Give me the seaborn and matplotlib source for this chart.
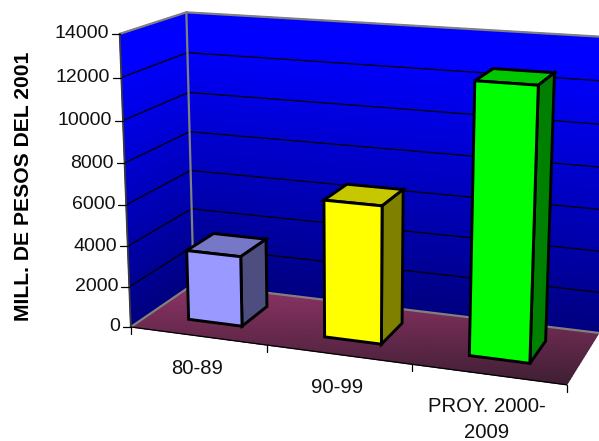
import numpy as np
import matplotlib
matplotlib.use("Agg")
import matplotlib.pyplot as plt
from matplotlib.colors import LinearSegmentedColormap, to_rgb
from matplotlib.patches import Polygon
from matplotlib.transforms import Transform
import seaborn as sns

# Chart data
periods = ["80-89", "90-99", "PROY. 2000-\n2009"]
amounts = [3450, 6600, 12600]
value_ticks = [0, 2000, 4000, 6000, 8000, 10000, 12000, 14000]
axis_title = "MILL. DE PESOS DEL 2001"
face_colours = ["#9999FF", "#FFFF00", "#00FF00"]

V_MAX = 14000.0
W, H = 599, 441
BAR_WIDTH = 0.4
Z_FRONT, Z_BACK = 0.28, 0.72

# Camera calibration: (category position, value, depth) -> canvas pixel
anchors = [
    (0, 0, 0, 131, 326), (0, 2000, 0, 130, 287), (0, 4000, 0, 128, 246),
    (0, 6000, 0, 126, 205), (0, 8000, 0, 125, 163), (0, 10000, 0, 123, 120),
    (0, 12000, 0, 121, 77), (0, 14000, 0, 119, 34),
    (1, 0, 0, 267, 346), (2, 0, 0, 412, 365), (3, 0, 0, 566, 385),
    (0, 0, 1, 193, 284), (0, 8000, 1, 189, 132), (0, 10000, 1, 188, 93),
    (0, 12000, 1, 188, 53), (0, 14000, 1, 187, 12),
    (3, 0, 1, 600, 333), (3, 2000, 1, 601, 292), (3, 4000, 1, 602, 251),
    (3, 6000, 1, 603, 209), (3, 14000, 1, 612, 38),
]
rows, rhs = [], []
for cx, val, dz, u, v in anchors:
    w = val / V_MAX
    rows.append([cx, w, dz, 1, 0, 0, 0, 0, -u * cx, -u * w, -u * dz])
    rhs.append(u)
    rows.append([0, 0, 0, 0, cx, w, dz, 1, -v * cx, -v * w, -v * dz])
    rhs.append(v)
camera = np.append(np.linalg.lstsq(np.array(rows, float), np.array(rhs, float), rcond=None)[0], 1).reshape(3, 4)


def project(cx, val, dz):
    cx, val, dz = np.broadcast_arrays(np.asarray(cx, float), np.asarray(val, float), np.asarray(dz, float))
    pts = np.stack([cx, val / V_MAX, dz, np.ones_like(cx)], axis=-1) @ camera.T
    return pts[..., 0] / pts[..., 2], pts[..., 1] / pts[..., 2]


class DepthPlane(Transform):
    """Maps seaborn's (category, value) coordinates onto a plane of constant depth."""
    input_dims = output_dims = 2
    is_affine = False

    def __init__(self, plane_depth):
        super().__init__()
        self.plane_depth = plane_depth

    def transform_non_affine(self, values):
        values = np.asarray(values, float)
        return np.column_stack(project(values[:, 0] + 0.5, values[:, 1], self.plane_depth))


sns.set_theme(style="white")
plt.rcParams["font.family"] = ["Liberation Sans", "DejaVu Sans"]

fig = plt.figure(figsize=(W / 100, H / 100), dpi=100, facecolor="white")
ax = fig.add_axes([0, 0, 1, 1])
ax.set_xlim(0, W)
ax.set_ylim(H, 0)
ax.autoscale(False)
ax.set_axis_off()

wall_cmap = LinearSegmentedColormap.from_list("wall", ["#000080", "#0000FF"])
floor_cmap = LinearSegmentedColormap.from_list("floor", ["#8F3366", "#3E1F33"])

# Back wall, left wall and floor as shaded quads
v_grid = np.linspace(0, V_MAX, 40)
cc, vv = np.meshgrid([0, 3], v_grid)
uu, yy = project(cc, vv, 1)
ax.pcolormesh(uu, yy, vv / V_MAX, cmap=wall_cmap, shading="gouraud", vmin=0, vmax=0.9, zorder=1)
zz, vv = np.meshgrid([0, 1], v_grid)
uu, yy = project(0, vv, zz)
ax.pcolormesh(uu, yy, vv / V_MAX, cmap=wall_cmap, shading="gouraud", vmin=0, vmax=0.9, zorder=1)
# The floor darkens towards the bottom of the canvas rather than along its depth
cc, zz = np.meshgrid(np.linspace(0, 3, 30), np.linspace(0, 1, 20))
uu, yy = project(cc, 0, zz)
ax.pcolormesh(uu, yy, yy, cmap=floor_cmap, shading="gouraud", vmin=yy.min(), vmax=yy.max(), zorder=1)

# Gridlines on both walls
for tick in value_ticks[1:-1]:
    ax.plot(*project([0, 0], tick, [0, 1]), color="black", lw=0.9, zorder=2)
    ax.plot(*project([0, 3], tick, 1), color="black", lw=0.9, zorder=2)

# Wall and floor outlines
for ends in (([0, 0], 0, [0, 1]), ([0, 3], 0, 1), ([0, 0], V_MAX, [0, 1]),
             ([0, 3], V_MAX, 1), (0, [0, V_MAX], 1)):
    ax.plot(*project(*ends), color="#808080", lw=1.6, zorder=3, solid_capstyle="round")
ax.plot(*project(0, [0, V_MAX], 0), color="#3A3A3A", lw=1.3, zorder=3)
ax.plot(*project([0, 3], 0, 0), color="black", lw=0.9, zorder=3)

# Value axis
for tick in value_ticks:
    u, y = project(0, tick, 0)
    ax.plot([u - 8, u], [y, y], color="black", lw=0.9, zorder=3)
    ax.text(u - 11, y, str(tick), ha="right", va="center", fontsize=14, color="#111111")
ax.text(24, 186, axis_title, rotation=90, ha="center", va="center",
        fontsize=15.2, fontweight="bold", color="black")

# Category axis
for pos in range(4):
    u, y = project(pos, 0, 0)
    ax.plot([u, u], [y, y + 7], color="black", lw=0.9, zorder=3)
for pos, label in enumerate(periods):
    u, y = project(pos + 0.5, 0, 0)
    ax.text(u - 1, y + 23, label, ha="center", va="top", fontsize=14.6, color="#111111",
            linespacing=1.42, multialignment="center")

# Bars: seaborn supplies the front faces, depth faces are extruded from them
bar_ax = fig.add_axes([0, 0, 1, 1], zorder=2)
sns.barplot(x=periods, y=amounts, hue=periods, palette=face_colours, width=BAR_WIDTH,
            dodge=False, legend=False, saturation=1, edgecolor="black", linewidth=2.1, ax=bar_ax)
bar_ax.set_axis_off()

for rect, colour in zip(sorted(bar_ax.patches, key=lambda p: p.get_x()), face_colours):
    left = rect.get_x() + 0.5
    right = left + rect.get_width()
    top = rect.get_height()
    rect.set_transform(DepthPlane(Z_FRONT) + ax.transData)
    rect.set_clip_on(False)
    rect.set_zorder(6)
    base = np.array(to_rgb(colour))
    top_face = np.column_stack(project([left, right, right, left], top, [Z_FRONT, Z_FRONT, Z_BACK, Z_BACK]))
    side_face = np.column_stack(project(right, [0, top, top, 0], [Z_FRONT, Z_FRONT, Z_BACK, Z_BACK]))
    for corners, shade in ((top_face, 0.78), (side_face, 0.5)):
        face = Polygon(corners, closed=True, facecolor=base * shade, edgecolor="black", lw=2.1,
                       transform=ax.transData, clip_on=False, zorder=5)
        bar_ax.add_artist(face)

fig.savefig("out.png", dpi=100)
